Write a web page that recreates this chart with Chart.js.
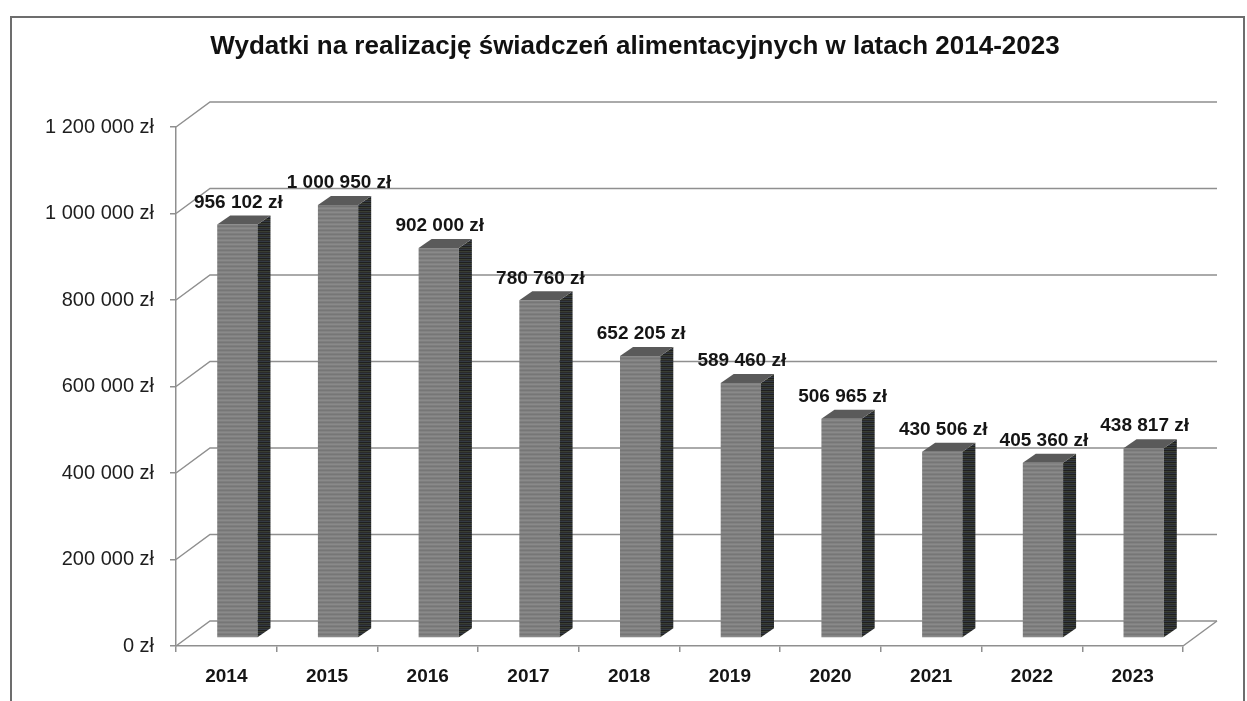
<!DOCTYPE html>
<html>
<head>
<meta charset="utf-8">
<script src="https://cdn.jsdelivr.net/npm/chart.js@4.4.1/dist/chart.umd.min.js"></script>
<style>
  html, body { margin: 0; padding: 0; background: #fff; }
</style>
</head>
<body>
<canvas id="chart" width="1247" height="701"></canvas>
<script>
// dane
const years = ['2014', '2015', '2016', '2017', '2018', '2019', '2020', '2021', '2022', '2023'];
const spending = [956102, 1000950, 902000, 780760, 652205, 589460, 506965, 430506, 405360, 438817];
const yTicks = [0, 200000, 400000, 600000, 800000, 1000000, 1200000];
const title = 'Wydatki na realizację świadczeń alimentacyjnych w latach 2014-2023';

// efekt 3D
const FRONT = { dx: 11, dy: -8 };   // przod slupka wzgledem osi
const DEPTH = { dx: 13, dy: -9 };   // glebokosc slupka
const WALL = { dx: 34, dy: -25 };   // tylna sciana
const GRID = '#8f8f8f';

function zl(v) {
    return String(v).replace(/\B(?=(\d{3})+(?!\d))/g, ' ') + ' zł';
}

// tekstura "skanu" dla przodu i boku slupkow
function stripes(colors) {
    const c = document.createElement('canvas');
    c.width = 1; c.height = colors.length;
    const g = c.getContext('2d');
    colors.forEach((col, i) => { g.fillStyle = col; g.fillRect(0, i, 1, 1); });
    return g.createPattern(c, 'repeat');
}
const frontFill = stripes(['#8a8a8a', '#7e7e7e', '#767676', '#828282']);
const sideFill = stripes(['#2a2a2a', '#333a44', '#1f1f1f', '#3a3f33']);
const topFill = '#5a5a5a';

const box3d = {
    id: 'box3d',
    beforeDraw(chart) {
        const ctx = chart.ctx;
        ctx.save();
        ctx.strokeStyle = '#6d6d6d';
        ctx.lineWidth = 2;
        ctx.strokeRect(11, 17, 1233, 720);
        ctx.restore();
    },
    beforeDatasetsDraw(chart) {
        const { ctx, chartArea: a, scales: { y } } = chart;
        ctx.save();
        ctx.strokeStyle = GRID;
        ctx.lineWidth = 1.5;
        y.ticks.forEach(t => {
            const py = y.getPixelForValue(t.value);
            ctx.beginPath();
            ctx.moveTo(a.left, py);
            ctx.lineTo(a.left + WALL.dx, py + WALL.dy);
            ctx.lineTo(a.right + WALL.dx, py + WALL.dy);
            ctx.stroke();
        });
        // prawa krawedz podlogi
        ctx.beginPath();
        ctx.moveTo(a.right, a.bottom);
        ctx.lineTo(a.right + WALL.dx, a.bottom + WALL.dy);
        ctx.stroke();
        ctx.restore();

        ctx.save();
        ctx.translate(FRONT.dx, FRONT.dy);
    },
    afterDatasetsDraw(chart) {
        const ctx = chart.ctx;
        const meta = chart.getDatasetMeta(0);
        meta.data.forEach(bar => {
            const l = bar.x - bar.width / 2, r = bar.x + bar.width / 2;
            const t = bar.y, b = bar.base;
            // bok
            ctx.fillStyle = sideFill;
            ctx.beginPath();
            ctx.moveTo(r, t);
            ctx.lineTo(r + DEPTH.dx, t + DEPTH.dy);
            ctx.lineTo(r + DEPTH.dx, b + DEPTH.dy);
            ctx.lineTo(r, b);
            ctx.closePath();
            ctx.fill();
            // gora
            ctx.fillStyle = topFill;
            ctx.beginPath();
            ctx.moveTo(l, t);
            ctx.lineTo(l + DEPTH.dx, t + DEPTH.dy);
            ctx.lineTo(r + DEPTH.dx, t + DEPTH.dy);
            ctx.lineTo(r, t);
            ctx.closePath();
            ctx.fill();
        });
        ctx.restore();

        // etykiety wartosci
        ctx.save();
        ctx.font = 'bold 19px "Liberation Sans", Arial, sans-serif';
        ctx.fillStyle = '#151515';
        ctx.textAlign = 'center';
        ctx.textBaseline = 'middle';
        meta.data.forEach((bar, i) => {
            ctx.fillText(zl(spending[i]), bar.x + FRONT.dx + 1, bar.y + FRONT.dy - 22);
        });
        ctx.restore();
    },
    afterDraw(chart) {
        const ctx = chart.ctx;
        ctx.save();
        ctx.font = 'bold 26px "Liberation Sans", Arial, sans-serif';
        ctx.fillStyle = '#111';
        ctx.textAlign = 'center';
        ctx.textBaseline = 'middle';
        ctx.fillText(title, 635, 47);
        ctx.restore();
    }
};

new Chart(document.getElementById('chart'), {
    type: 'bar',
    data: {
        labels: years,
        datasets: [{
            data: spending,
            backgroundColor: frontFill,
            borderWidth: 0,
            categoryPercentage: 1,
            barPercentage: 0.4
        }]
    },
    options: {
        responsive: false,
        animation: false,
        devicePixelRatio: 1,
        layout: { padding: { left: 0, right: 64, top: 127, bottom: 0 } },
        plugins: {
            legend: { display: false },
            title: { display: false },
            tooltip: { enabled: false }
        },
        scales: {
            x: {
                grid: { drawOnChartArea: false, drawTicks: true, tickLength: 6, offset: true, color: GRID, lineWidth: 1.5 },
                border: { display: true, color: GRID, width: 1.5 },
                ticks: {
                    color: '#151515',
                    padding: 13,
                    font: { family: '"Liberation Sans", Arial, sans-serif', size: 19, weight: 'bold' }
                },
                afterFit: s => { s.height = 55; }
            },
            y: {
                min: 0,
                max: 1200000,
                afterBuildTicks: s => { s.ticks = yTicks.map(v => ({ value: v })); },
                grid: { drawOnChartArea: false, drawTicks: true, tickLength: 6, color: GRID, lineWidth: 1.5 },
                border: { display: true, color: GRID, width: 1.5 },
                ticks: {
                    color: '#1e1e1e',
                    padding: 16,
                    font: { family: '"Liberation Sans", Arial, sans-serif', size: 20 },
                    callback: v => zl(v)
                },
                afterFit: s => { s.width = 176; }
            }
        }
    },
    plugins: [box3d]
});
</script>
</body>
</html>
